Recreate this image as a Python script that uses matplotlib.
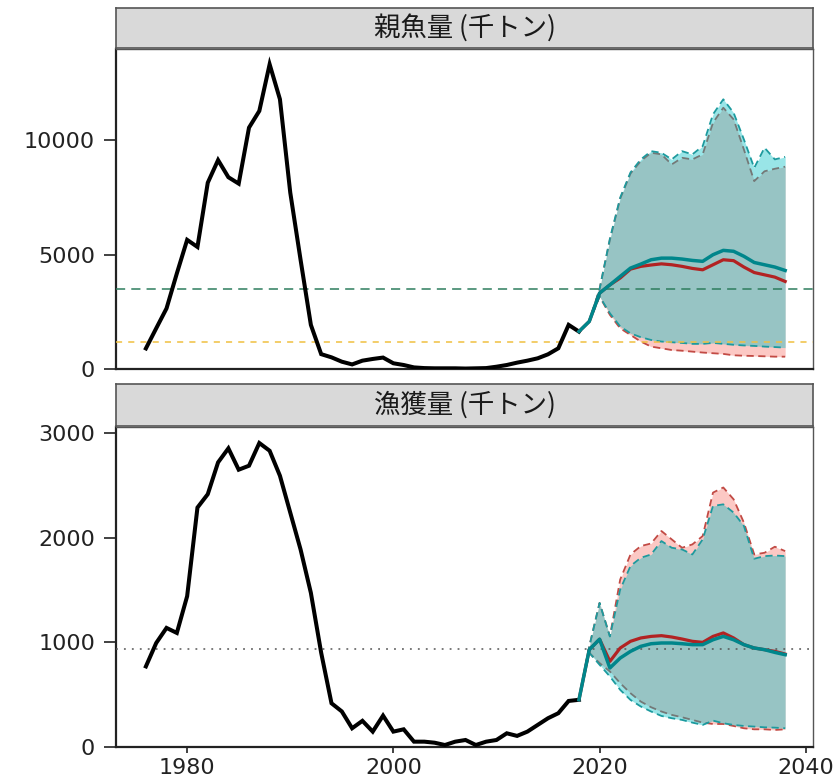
import matplotlib
matplotlib.use("Agg")
import matplotlib.pyplot as plt
import numpy as np

# ---------------- data ----------------
years_hist = list(range(1976, 2019))
ssb_hist = [900, 1780, 2650, 4180, 5650, 5340, 8150, 9140, 8390, 8110,
            10560, 11290, 13330, 11800, 7720, 4780, 1930, 650, 510, 320,
            200, 365, 439, 500, 250, 175, 70, 40, 30, 30,
            30, 20, 30, 40, 100, 175, 278, 365, 468, 643,
            906, 1930, 1637]
catch_hist = [770, 994, 1138, 1090, 1441, 2288, 2416, 2720, 2854, 2650,
              2688, 2905, 2831, 2592, 2240, 1888, 1473, 900, 418, 340,
              179, 250, 147, 300, 147, 169, 51, 51, 41, 19,
              51, 67, 19, 51, 67, 131, 106, 147, 211, 275,
              323, 440, 451]

years_proj = list(range(2018, 2039))
ssb_teal_med = [1640, 2080, 3320, 3680, 4050, 4415, 4590, 4780, 4850, 4850, 4810,
                4750, 4710, 5000, 5190, 5150, 4930, 4660, 4560, 4460, 4310]
ssb_red_med = [1640, 2080, 3320, 3680, 3980, 4370, 4490, 4550, 4600, 4560, 4490,
               4400, 4340, 4560, 4780, 4740, 4460, 4220, 4120, 4020, 3830]
ssb_teal_hi = [1640, 2080, 3500, 5700, 7500, 8600, 9170, 9530, 9460, 9170, 9530,
               9390, 9750, 11140, 11800, 11210, 10040, 8800, 9680, 9170, 9280]
ssb_red_hi = [1640, 2080, 3500, 5650, 7450, 8550, 9100, 9460, 9390, 8950, 9240,
              9170, 9390, 10770, 11430, 10920, 9600, 8220, 8650, 8760, 8850]
ssb_teal_lo = [1640, 2080, 3170, 2440, 1860, 1560, 1390, 1270, 1200, 1170, 1140,
               1100, 1100, 1140, 1100, 1060, 1030, 1010, 980, 960, 935]
ssb_red_lo = [1640, 2080, 3170, 2370, 1780, 1490, 1200, 980, 906, 830, 800,
              760, 720, 690, 660, 600, 580, 570, 555, 540, 540]

catch_teal_med = [451, 930, 1030, 755, 850, 914, 962, 987, 994, 994, 987,
                  978, 978, 1025, 1057, 1025, 978, 946, 930, 904, 882]
catch_red_med = [451, 930, 1030, 818, 946, 1010, 1042, 1057, 1064, 1051, 1032,
                 1010, 1000, 1057, 1090, 1042, 978, 946, 930, 914, 888]
catch_red_hi = [451, 960, 1377, 1057, 1600, 1840, 1920, 1945, 2064, 1984, 1904,
                1936, 2016, 2431, 2480, 2367, 2144, 1840, 1856, 1914, 1872]
catch_teal_hi = [451, 960, 1377, 1057, 1505, 1730, 1808, 1840, 1968, 1904, 1888,
                 1840, 1984, 2303, 2319, 2240, 2112, 1799, 1824, 1830, 1824]
catch_teal_lo = [451, 900, 786, 674, 546, 450, 387, 339, 297, 275, 259,
                 233, 211, 252, 227, 211, 201, 195, 188, 185, 179]
catch_red_lo = [451, 900, 802, 722, 610, 514, 434, 380, 339, 307, 284,
                259, 233, 220, 220, 201, 179, 169, 169, 163, 169]

ssb_target = 3500
ssb_limit = 1200
catch_ref = 940

panel_titles = ["親魚量 (千トン)", "漁獲量 (千トン)"]
x_ticks = [1980, 2000, 2020, 2040]
ssb_ticks = [0, 5000, 10000]
catch_ticks = [0, 1000, 2000, 3000]

# ---------------- style ----------------
RIB_RED = "#F8766D"
RIB_TEAL = "#00BFC4"
LINE_RED = "#B22222"
LINE_TEAL = "#00868B"
DASH_RED = "#C24A44"
DASH_TEAL = "#1C9A9E"

W, H = 838, 779
fig = plt.figure(figsize=(W / 100, H / 100), dpi=100)

def fx(px):
    return px / W

def fy(py):
    return 1 - py / H

left, right = 116, 813
panels = [
    dict(strip=(8, 48), ax=(49, 369), ylim=(0, 14000), ticks=ssb_ticks),
    dict(strip=(384, 426), ax=(427, 747), ylim=(0, 3058), ticks=catch_ticks),
]

series = [
    (ssb_hist, ssb_red_lo, ssb_red_hi, ssb_teal_lo, ssb_teal_hi, ssb_red_med, ssb_teal_med),
    (catch_hist, catch_red_lo, catch_red_hi, catch_teal_lo, catch_teal_hi, catch_red_med, catch_teal_med),
]

for i, p in enumerate(panels):
    top, bot = p["ax"]
    ax = fig.add_axes([fx(left), fy(bot), fx(right - left), (bot - top) / H])
    hist, rlo, rhi, tlo, thi, rmed, tmed = series[i]

    ax.fill_between(years_proj, rlo, rhi, color=RIB_RED, alpha=0.4, lw=0, zorder=2)
    ax.plot(years_proj, rlo, color=DASH_RED, lw=1.3, ls=(0, (4, 2.5)), zorder=2.1)
    ax.plot(years_proj, rhi, color=DASH_RED, lw=1.3, ls=(0, (4, 2.5)), zorder=2.1)
    ax.fill_between(years_proj, tlo, thi, color=RIB_TEAL, alpha=0.4, lw=0, zorder=2.2)
    ax.plot(years_proj, tlo, color=DASH_TEAL, lw=1.3, ls=(0, (4, 2.5)), zorder=2.3)
    ax.plot(years_proj, thi, color=DASH_TEAL, lw=1.3, ls=(0, (4, 2.5)), zorder=2.3)

    if i == 0:
        ax.axhline(ssb_target, color="#2E7D5E", lw=1.1, ls=(0, (6, 4)), zorder=3)
        ax.axhline(ssb_limit, color="#F0C040", lw=1.1, ls=(0, (4, 4)), zorder=3)
    else:
        ax.axhline(catch_ref, color="#555555", lw=1.1, ls=(0, (1.2, 4)), zorder=3)

    ax.plot(years_hist, hist, color="black", lw=2.9, solid_joinstyle="miter", zorder=4)
    ax.plot(years_proj, rmed, color=LINE_RED, lw=2.3, zorder=4.1)
    ax.plot(years_proj, tmed, color=LINE_TEAL, lw=2.5, zorder=4.2)

    ax.set_xlim(1973.1, 2040.7)
    ax.set_ylim(*p["ylim"])
    ax.set_yticks(p["ticks"])
    ax.set_yticklabels([str(t) for t in p["ticks"]])
    ax.set_xticks(x_ticks)
    if i == 0:
        ax.tick_params(axis="x", labelbottom=False, length=0)
    else:
        ax.set_xticklabels([str(t) for t in x_ticks])
        ax.tick_params(axis="x", length=4, width=1.3, color="#333333",
                       labelsize=16, labelcolor="#222222", pad=4)
    ax.tick_params(axis="y", length=9, width=1.3, color="#333333",
                   labelsize=16, labelcolor="#222222", pad=6)
    for s in ["top", "right"]:
        ax.spines[s].set_color("#555555")
        ax.spines[s].set_linewidth(1.0)
    for s in ["left", "bottom"]:
        ax.spines[s].set_color("#222222")
        ax.spines[s].set_linewidth(1.6)
    ax.set_facecolor("white")

    # strip
    st, sb = p["strip"]
    sax = fig.add_axes([fx(left), fy(sb), fx(right - left), (sb - st) / H])
    sax.set_xlim(0, 1)
    sax.set_ylim(0, 1)
    sax.set_facecolor("#D9D9D9")
    for s in sax.spines.values():
        s.set_color("#555555")
        s.set_linewidth(1.2)
    sax.set_xticks([])
    sax.set_yticks([])
    sax.text(0.5, 0.5, panel_titles[i], ha="center", va="center",
             fontsize=19, color="#1a1a1a",
             family=["Noto Sans CJK JP", "DejaVu Sans"])

fig.savefig("out.png", dpi=100)
